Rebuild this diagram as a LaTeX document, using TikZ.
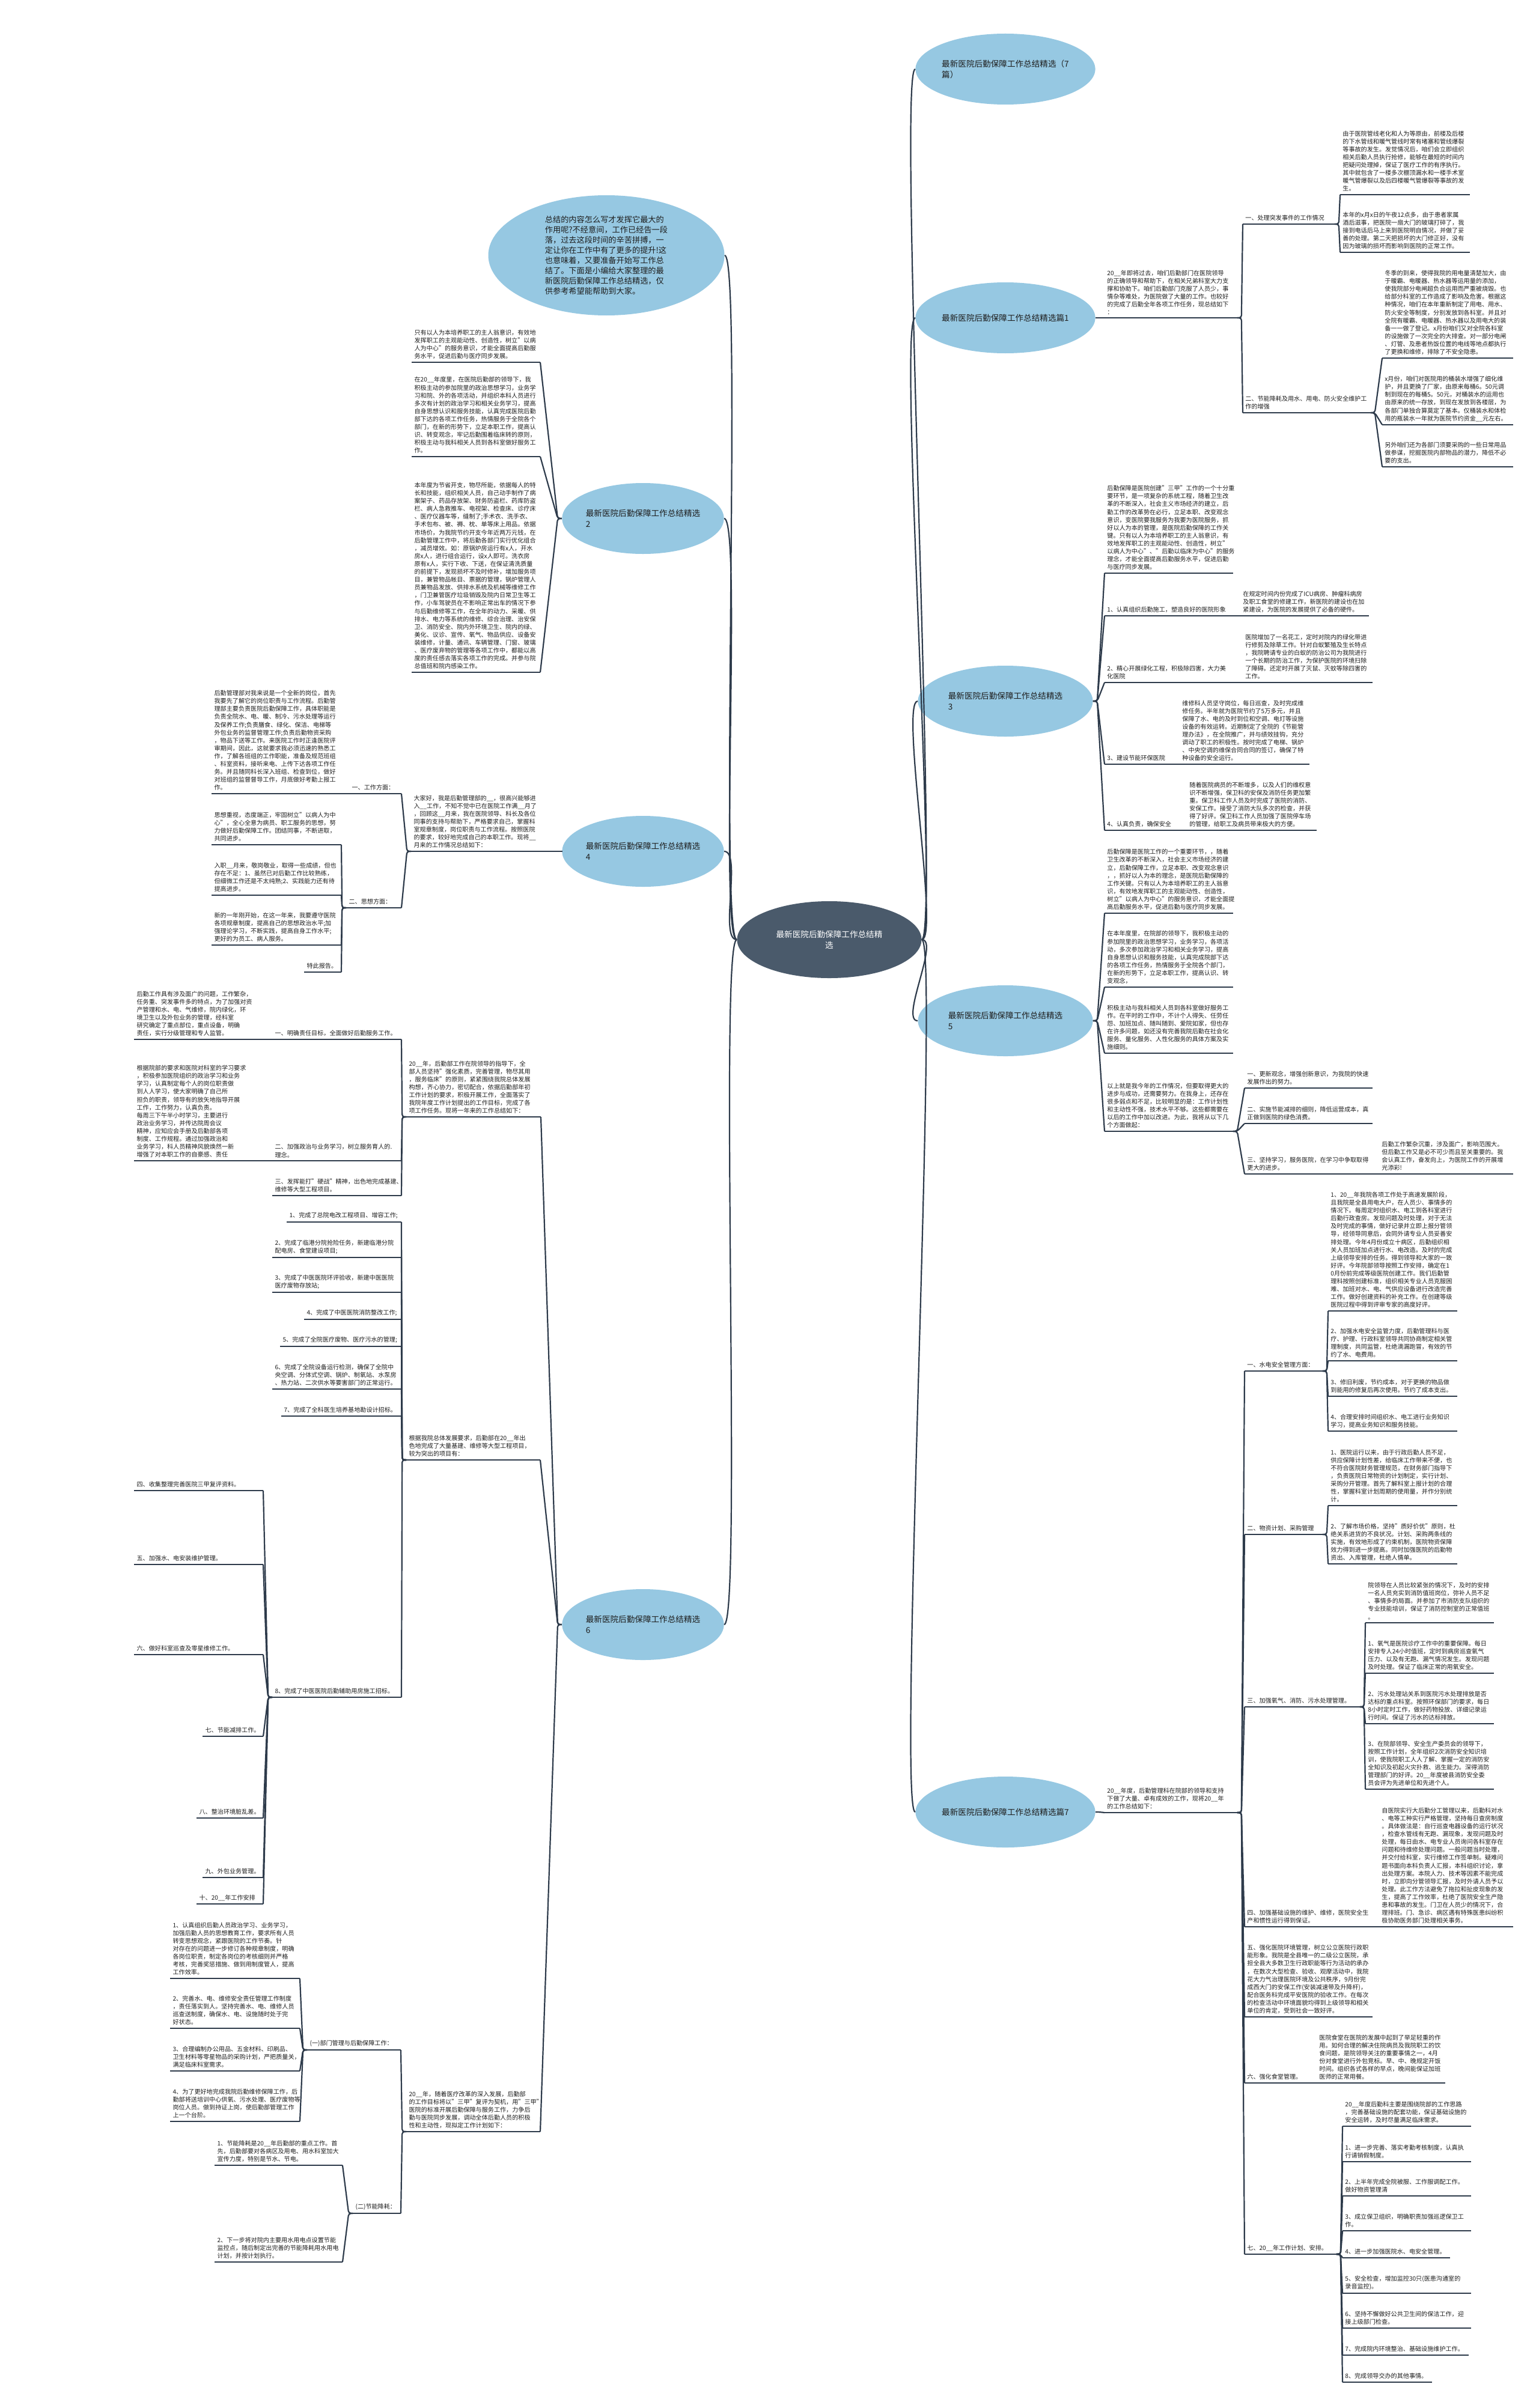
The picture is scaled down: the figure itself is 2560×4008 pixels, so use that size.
\documentclass[tikz,border=0pt]{standalone}
\usepackage{fontspec}
\setmainfont{Noto Sans CJK SC}
\usetikzlibrary{shapes.geometric}
\definecolor{lc}{HTML}{2E3B4B}
\definecolor{bl}{HTML}{96C8E2}
\definecolor{cc}{HTML}{4A5A6B}
\definecolor{tx}{HTML}{1E1E1E}
\newcommand\mkR[5]{\pgfmathsetmacro\mktw{(#4-8)/2}\node[leaf,text width=\mktw pt,anchor=south west] (#1) at (#2,#3) {#5};\draw[uline] (#1.south west) -- (#1.south east);}
\newcommand\mkL[5]{\pgfmathsetmacro\mktw{(#4-8)/2}\node[leaf,text width=\mktw pt,anchor=south east] (#1) at (#2,#3) {#5};\draw[uline] (#1.south west) -- (#1.south east);}
\newcommand\conR[2]{\draw[conn] (#1) -- ++(7,0) -- (#2.south west);}
\newcommand\conL[2]{\draw[conn] (#1) -- ++(-7,0) -- (#2.south east);}
\begin{document}
\begin{tikzpicture}[x=0.5pt,y=-0.5pt,
 leaf/.style={font=\fontsize{5.05pt}{6.55pt}\selectfont, align=left, inner xsep=2pt, inner ysep=2.5pt, text=tx},
 uline/.style={draw=lc, line width=1.1pt},
 conn/.style={draw=lc, line width=1.1pt, rounded corners=2pt},
 bell/.style={ellipse, fill=bl, draw=none, minimum width=145.5pt, minimum height=59pt, align=left, inner sep=0pt, text=tx, font=\fontsize{6.8pt}{9pt}\selectfont},
 lell/.style={bell, minimum width=134pt}]
\useasboundingbox (0,0) rectangle (2560,4008);
\fill[white] (0,0) rectangle (2560,4008);

% central and branches
\node[ellipse, fill=cc, minimum width=153.5pt, minimum height=64pt, inner sep=0pt, align=center, text=white, font=\fontsize{6.8pt}{9pt}\selectfont] (C) at (1380,1564) {最新医院后勤保障工作总结精\\选};
\node[bell] (B0) at (1673,115) {最新医院后勤保障工作总结精选（7\\篇）};
\node[bell] (B1) at (1673,529) {最新医院后勤保障工作总结精选篇1};
\node[bell] (B3) at (1673,1167) {最新医院后勤保障工作总结精选\\3};
\node[bell] (B5) at (1673,1699) {最新医院后勤保障工作总结精选\\5};
\node[bell] (B7) at (1673,3016) {最新医院后勤保障工作总结精选篇7};
\node[ellipse, fill=bl, minimum width=196.5pt, minimum height=100pt, inner sep=0pt, align=left, text=tx, font=\fontsize{6.6pt}{8.5pt}\selectfont] (I) at (1009,425) {总结的内容怎么写才发挥它最大的\\作用呢?不经意间，工作已经告一段\\落，过去这段时间的辛苦拼搏，一\\定让你在工作中有了更多的提升!这\\也意味着，又要准备开始写工作总\\结了。下面是小编给大家整理的最\\新医院后勤保障工作总结精选，仅\\供参考希望能帮助到大家。};
\node[lell] (L2) at (1070,863) {最新医院后勤保障工作总结精选\\2};
\node[lell] (L4) at (1070,1417) {最新医院后勤保障工作总结精选\\4};
\node[lell] (L6) at (1070,2704) {最新医院后勤保障工作总结精选\\6};
\foreach \b in {B0,B1,B3,B5,B7}{\draw[conn] (C.east) .. controls +(30,0) and +(-30,0) .. (\b.west);}
\foreach \b in {I,L2,L4,L6}{\draw[conn] (C.west) .. controls +(-30,0) and +(30,0) .. (\b.east);}

% ---------- B1
\mkR{r1}{1838}{529}{220}{20\_\_年即将过去，咱们后勤部门在医院领导\\的正确领导和帮助下，在相关兄弟科室大力支\\撑和协助下。咱们后勤部门克服了人员少，事\\情杂等难处，为医院做了大量的工作。也较好\\的完成了后勤全年各项工作任务，现总结如下\\：}
\conR{B1.east}{r1}
\mkR{r1a}{2068}{373}{152}{一、处理突发事件的工作情况}
\mkR{r1a1}{2230}{324}{215}{由于医院管线老化和人为等原由，前楼及后楼\\的下水管线和暖气管线时常有堵塞和管线爆裂\\等事故的发生。发觉情况后，咱们会立即组织\\相关后勤人员执行抢修，能够在最短的时间内\\把疑问处理掉，保证了医疗工作的有序执行。\\其中就包含了一楼多次棚顶漏水和一楼手术室\\暖气管爆裂以及后四楼暖气管爆裂等事故的发\\生。}
\mkR{r1a2}{2230}{420}{215}{本年的x月x日的午夜12点多，由于患者家属\\酒后滋事，把医院一扇大门的玻璃打碎了，我\\接到电话后马上来到医院明自情况，并做了妥\\善的处理。第二天把损坏的大门修正好，没有\\因为玻璃的损坏而影响到医院的正常工作。}
\mkR{r1b}{2068}{687}{212}{二、节能降耗及用水、用电、防火安全维护工\\作的增强}
\mkR{r1b1}{2300}{596}{217}{冬季的到来，使得我院的用电量清楚加大，由\\于暖霸、电暖器、热水器等运用量的添加，\\使我院部分电闸超负合运用而严重被烧毁。也\\给部分科室的工作造成了影响及危害。根据这\\种情况，咱们在本年重新制定了用电、用水、\\防火安全等制度，分别发放到各科室。并且对\\全院有暖霸、电暖器、热水器以及用电大的装\\备一一做了登记。x月份咱们又对全院各科室\\的设施做了一次完全的大排查。对一部分电闸\\、灯管、及患者热饭位置的电线等地点都执行\\了更换和维修，排除了不安全隐患。}
\mkR{r1b2}{2300}{707}{217}{x月份，咱们对医院用的桶装水增强了细化维\\护，并且更换了厂家，由原来每桶6。50元调\\制到现在的每桶5。50元，对桶装水的运用也\\由原来的统一存放，到现在发放到各楼层，为\\各部门单独合算莫定了基本。仅桶装水和体检\\用的瓶装水一年就为医院节约资金\_\_元左右。}
\mkR{r1b3}{2300}{777}{217}{另外咱们还为各部门须要采购的一些日常用品\\做参谋，挖掘医院内部物品的潜力，降低不必\\要的支出。}
\conR{r1.south east}{r1a}\conR{r1.south east}{r1b}
\conR{r1a.south east}{r1a1}\conR{r1a.south east}{r1a2}
\conR{r1b.south east}{r1b1}\conR{r1b.south east}{r1b2}\conR{r1b.south east}{r1b3}

% ---------- B3
\mkR{r3a}{1838}{954}{213}{后勤保障是医院创建"三甲"工作的一个十分重\\要环节，是一项复杂的系统工程，随着卫生改\\革的不断深入，社会主义市场经济的建立，后\\勤工作的改革势在必行，立足本职、改变观念\\意识，变医院要我服务为我要为医院服务，抓\\好以人为本的管理，是医院后勤保障的工作关\\键。只有以人为本培养职工的主人翁意识，有\\效地发挥职工的主观能动性、创造性，树立"\\以病人为中心"、"后勤以临床为中心"的服务\\理念，才能全面提高后勤服务水平，促进后勤\\与医疗同步发展。}
\mkR{r3b}{1838}{1025}{213}{1、认真组织后勤施工，塑造良好的医院形象}
\mkR{r3b1}{2064}{1025}{213}{在规定时间内份完成了ICU病房、肿瘤科病房\\及职工食堂的修建工作，新医院的建设也在加\\紧建设，为医院的发展提供了必备的硬件。}
\mkR{r3c}{1838}{1136}{213}{2、精心开展绿化工程，积极除四害，大力美\\化医院}
\mkR{r3c1}{2068}{1136}{215}{医院增加了一名花工，定时对院内的绿化带进\\行修剪及除草工作。针对白蚁繁殖及生长特点\\，我院聘请专业的白蚁的防治公司为我院进行\\一个长期的防治工作，为保护医院的环境扫除\\了障碍。还定时开展了灭鼠、灭蚊等除四害的\\工作。}
\mkR{r3d}{1838}{1272}{115}{3、建设节能环保医院}
\mkR{r3d1}{1963}{1272}{215}{维修科人员坚守岗位，每日巡查，及时完成维\\修任务。半年就为医院节约了5万多元，并且\\保障了水、电的及时到位和空调、电灯等设施\\设备的有效运转。近期制定了全院的《节能管\\理办法》，在全院推广，并与绩效挂钩，充分\\调动了职工的积极性。按时完成了电梯、锅炉\\、中央空调的维保合同合同的签订，确保了特\\种设备的安全运行。}
\mkR{r3e}{1838}{1382}{125}{4、认真负责，确保安全}
\mkR{r3e1}{1975}{1382}{215}{随着医院病员的不断增多，以及人们的维权意\\识不断增强，保卫科的安保及消防任务更加繁\\重。保卫科工作人员及时完成了医院的消防、\\安保工作。接受了消防大队多次的检查，并获\\得了好评。保卫科工作人员加强了医院停车场\\的管理，给职工及病员带来极大的方便。}
\foreach \c in {r3a,r3b,r3c,r3d,r3e}{\conR{B3.east}{\c}}
\conR{r3b.south east}{r3b1}\conR{r3c.south east}{r3c1}\conR{r3d.south east}{r3d1}\conR{r3e.south east}{r3e1}

% ---------- B5
\mkR{r5a}{1838}{1520}{213}{后勤保障是医院工作的一个重要环节，，随着\\卫生改革的不断深入，社会主义市场经济的建\\立，后勤保障工作，立足本职、改变观念意识\\，，抓好以人为本的理念，是医院后勤保障的\\工作关键。只有以人为本培养职工的主人翁意\\识，有效地发挥职工的主观能动性、创造性，\\树立"以病人为中心"的服务意识，才能全面提\\高后勤服务水平，促进后勤与医疗同步发展。}
\mkR{r5b}{1838}{1643}{213}{在本年度里，在院部的领导下，我积极主动的\\参加院里的政治思想学习，业务学习，各项活\\动，多次参加政治学习和相关业务学习，提高\\自身思想认识和服务技能，认真完成院部下达\\的各项工作任务，热情服务于全院各个部门，\\在新的形势下，立足本职工作，提高认识、转\\变观念，}
\mkR{r5c}{1838}{1753}{213}{积极主动与我科相关人员到各科室做好服务工\\作。在平时的工作中，不计个人得失、任劳任\\怨、加班加点、随叫随到、爱院如家，但也存\\在许多问题，如还没有完善我院后勤在社会化\\服务、量化服务、人性化服务的具体方案及实\\施细则。}
\mkR{r5d}{1838}{1883}{213}{以上就是我今年的工作情况，但要取得更大的\\进步与成功，还需要努力。在我身上，还存在\\很多弱点和不足，比较明显的是：工作计划性\\和主动性不强，技术水平不够。这些都需要在\\以后的工作中加以改进。为此，我将从以下几\\个方面做起：}
\mkR{r5d1}{2071}{1811}{212}{一、更新观念，增强创新意识，为我院的快速\\发展作出的努力。}
\mkR{r5d2}{2071}{1870}{212}{二、实施节能减排的细则，降低运营成本，真\\正做到医院的绿色消费。}
\mkR{r5d3}{2071}{1954}{212}{三、坚持学习，服务医院，在学习中争取取得\\更大的进步。}
\mkR{r5d3a}{2295}{1954}{222}{后勤工作繁杂沉重，涉及面广，影响范围大。\\但后勤工作又是必不可少而且至关重要的。我\\会认真工作，奋发向上，为医院工作的开展增\\光添彩!}
\foreach \c in {r5a,r5b,r5c,r5d}{\conR{B5.east}{\c}}
\foreach \c in {r5d1,r5d2,r5d3}{\conR{r5d.south east}{\c}}
\conR{r5d3.south east}{r5d3a}

% ---------- B7
\mkR{r7}{1838}{3017}{220}{20\_\_年度，后勤管理科在院部的领导和支持\\下做了大量、卓有成效的工作，现将20\_\_年\\的工作总结如下：}
\conR{B7.east}{r7}
\mkR{r7a}{2071}{2282}{129}{一、水电安全管理方面：}
\mkR{r7a1}{2210}{2182}{214}{1、20\_\_年我院各项工作处于高速发展阶段，\\且我院是全县用电大户，在人员少、事情多的\\情况下。每周定时组织水、电工到各科室进行\\后勤行政查房。发现问题及时处理，对于无法\\及时完成的事情，做好记录并立即上报分管领\\导，经领导同意后，会同外请专业人员妥善安\\排处理。今年4月份成立十病区，后勤组织相\\关人员加班加点进行水、电改造。及时的完成\\上级领导安排的任务。得到领导和大家的一致\\好评。今年院部领导按照工作安排，确定在1\\0月份前完成等级医院创建工作。我们后勤管\\理科按照创建标准，组织相关专业人员克服困\\难、加班对水、电、气供应设备进行改造完善\\工作。做好创建资料的补充工作。在创建等级\\医院过程中得到评审专家的高度好评。}
\mkR{r7a2}{2210}{2265}{214}{2、加强水电安全监管力度，后勤管理科与医\\疗、护理、行政科室领导共同协商制定相关管\\理制度，共同监管，杜绝滴漏跑冒，有效的节\\约了水、电费用。}
\mkR{r7a3}{2210}{2324}{214}{3、修旧利废，节约成本，对于更换的物品做\\到能用的修复后再次使用。节约了成本支出。}
\mkR{r7a4}{2210}{2382}{214}{4、合理安排时间组织水、电工进行业务知识\\学习，提高业务知识和服务技能。}
\mkR{r7b}{2071}{2554}{129}{二、物资计划、采购管理}
\mkR{r7b1}{2210}{2506}{214}{1、医院运行以来，由于行政后勤人员不足，\\供应保障计划性差，给临床工作带来不便，也\\不符合医院财务管理规范，在财务部门指导下\\，负责医院日常物资的计划制定，实行计划、\\采购分开管理。首先了解科室上报计划的合理\\性，掌握科室计划周期的使用量，并作分别统\\计。}
\mkR{r7b2}{2210}{2603}{214}{2、了解市场价格，坚持"质好价优"原则，杜\\绝关系进货的不良状况。计划、采购两条线的\\实施，有效地形成了约束机制，医院物资保障\\效力得到进一步提高。同时加强医院的后勤物\\资出、入库管理，杜绝人情单。}
\mkR{r7c}{2071}{2841}{191}{三、加强氧气、消防、污水处理管理。}
\mkR{r7c1}{2272}{2701}{213}{院领导在人员比较紧张的情况下，及时的安排\\一名人员充实到消防值班岗位，弥补人员不足\\、事情多的局面。并参加了市消防支队组织的\\专业技能培训，保证了消防控制室的正常值班\\。}
\mkR{r7c2}{2272}{2785}{213}{1、氧气是医院诊疗工作中的重要保障。每日\\安排专人24小时值班，定时到病房巡查氧气\\压力、以及有无跑、漏气情况发生。发现问题\\及时处理。保证了临床正常的用氧安全。}
\mkR{r7c3}{2272}{2869}{213}{2、污水处理站关系到医院污水处理排放是否\\达标的重点科室。按照环保部门的要求，每日\\8小时定时工作，做好药物投放、详细记录运\\行时间。保证了污水的达标排放。}
\mkR{r7c4}{2272}{2978}{213}{3、在院部领导、安全生产委员会的领导下，\\按照工作计划，全年组织2次消防安全知识培\\训，使我院职工人人了解、掌握一定的消防安\\全知识及初起火灾扑救、逃生能力。深得消防\\管理部门的好评。20\_\_年度被县消防安全委\\员会评为先进单位和先进个人。}
\mkR{r7d}{2071}{3207}{212}{四、加强基础设施的维护、维修，医院安全生\\产和惯性运行得到保证。}
\mkR{r7d1}{2295}{3207}{222}{自医院实行大后勤分工管理以来，后勤科对水\\、电等工种实行严格管理，坚持每日查房制度\\。具体做法是：自行巡查电器设备的运行状况\\，检查水管线有无跑、漏现象，发现问题及时\\处理，每日由水、电专业人员询问各科室存在\\问题和待维修处理问题。一般问题当时处理，\\并交付给科室，实行维修工作签单制。疑难问\\题书面向本科负责人汇报，本科组织讨论，拿\\出处理方案。本院人力、技术等因素不能完成\\时，立即向分管领导汇报，及时外请人员予以\\处理。此工作方法避免了拖拉和扯皮现象的发\\生，提高了工作效率，杜绝了医院安全生产隐\\患和事故的发生。门卫在人员少的情况下，合\\理排班。门、急诊、病区遇有特殊医患纠纷积\\极协助医务部门处理相关事务。}
\mkR{r7e}{2071}{3357}{212}{五、强化医院环境管理，树立公立医院行政职\\能形象。我院是全县唯一的二级公立医院，承\\担全县大多数卫生行政职能等行为活动的承办\\，在数次大型检查、验收、观摩活动中，我院\\花大力气治理医院环境及公共秩序，9月份完\\成西大门的安保工作(安装减速带及升降杆)，\\配合医务科完成平安医院的验收工作。在每次\\的检查活动中环境面貌均得到上级领导和相关\\单位的肯定，受到社会一致好评。}
\mkR{r7f}{2071}{3467}{110}{六、强化食堂管理。}
\mkR{r7f1}{2191}{3467}{213}{医院食堂在医院的发展中起到了举足轻重的作\\用。如何合理的解决住院病员及我院职工的饮\\食问题，是院领导关注的重要事情之一，4月\\份对食堂进行外包竞标。早、中、晚规定开饭\\时间。组织各式各样的早点，晚间能保证加班\\医师的正常用餐。}
\mkR{r7g}{2071}{3752}{152}{七、20\_\_年工作计划、安排。}
\mkR{r7g0}{2234}{3539}{213}{20\_\_年度后勤科主要是围绕院部的工作思路\\，完善基础设施的配套功能，保证基础设施的\\安全运转，及时尽量满足临床需求。}
\mkR{r7g1}{2234}{3598}{213}{1、进一步完善、落实考勤考核制度，认真执\\行请销假制度。}
\mkR{r7g2}{2234}{3655}{213}{2、上半年完成全院被服、工作服调配工作。\\做好物资管理清}
\mkR{r7g3}{2234}{3713}{213}{3、成立保卫组织，明确职责加强巡逻保卫工\\作。}
\mkR{r7g4}{2234}{3758}{178}{4、进一步加强医院水、电安全管理。}
\mkR{r7g5}{2234}{3817}{213}{5、安全检查，增加监控30只(医患沟通室的\\录音监控)。}
\mkR{r7g6}{2234}{3875}{213}{6、坚持不懈做好公共卫生间的保洁工作，迎\\接上级部门检查。}
\mkR{r7g7}{2234}{3920}{209}{7、完成院内环境整治、基础设施维护工作。}
\mkR{r7g8}{2234}{3965}{148}{8、完成领导交办的其他事情。}
\foreach \c in {r7a,r7b,r7c,r7d,r7e,r7f,r7g}{\conR{r7.south east}{\c}}
\foreach \c in {r7a1,r7a2,r7a3,r7a4}{\conR{r7a.south east}{\c}}
\foreach \c in {r7b1,r7b2}{\conR{r7b.south east}{\c}}
\foreach \c in {r7c1,r7c2,r7c3,r7c4}{\conR{r7c.south east}{\c}}
\conR{r7d.south east}{r7d1}\conR{r7f.south east}{r7f1}
\foreach \c in {r7g0,r7g1,r7g2,r7g3,r7g4,r7g5,r7g6,r7g7,r7g8}{\conR{r7g.south east}{\c}}

% ---------- L2
\mkL{l2a}{899}{603}{213}{只有以人为本培养职工的主人翁意识，有效地\\发挥职工的主观能动性、创造性，树立"以病\\人为中心"的服务意识，才能全面提高后勤服\\务水平，促进后勤与医疗同步发展。}
\mkL{l2b}{899}{760}{213}{在20\_\_年度里，在医院后勤部的领导下，我\\积极主动的参加院里的政治思想学习，业务学\\习和院、外的各项活动，并组织本科人员进行\\多次有计划的政治学习和相关业务学习，提高\\自身思想认识和服务技能，认真完成医院后勤\\部下达的各项工作任务，热情服务于全院各个\\部门，在新的形势下，立足本职工作，提高认\\识、转变观念，牢记后勤围着临床转的原则，\\积极主动与我科相关人员到各科室做好服务工\\作。}
\mkL{l2c}{899}{1119}{213}{本年度为节省开支，物尽所能，依据每人的特\\长和技能，组织相关人员，自己动手制作了病\\案架子、药品存放架、财务防盗栏、药库防盗\\栏、病人急救推车、电视架、检查床、诊疗床\\、医疗仪器车等，缝制了;手术衣、洗手衣、\\手术包布、被、褥、枕、单等床上用品。依据\\市场价，为我院节约开支今年近两万元钱，在\\后勤管理工作中，将后勤各部门实行优化组合\\，减员增效。如：原锅炉房运行有x人，开水\\房x人，进行组合运行，设x人即可。洗衣房\\原有x人，实行下收、下送，在保证清洗质量\\的前提下，发现损坏不及时修补，增加服务项\\目，兼管物品帐目、票据的管理，锅炉管理人\\员兼物品发放、供排水系统及机械等维修工作\\，门卫兼管医疗垃圾销毁及院内日常卫生等工\\作，小车驾驶员在不影响正常出车的情况下参\\与后勤维修等工作，在全年的动力、采暖、供\\排水、电力等系统的维修、综合治理、治安保\\卫、消防安全、院内外环境卫生、院内的绿、\\美化、议诊、宣传、氧气、物品供应、设备安\\装维修，计量、通讯、车辆管理、门窗、玻璃\\、医疗废弃物的管理等各项工作中，都能以高\\度的责任感去落实各项工作的完成。并参与院\\总值班和院内感染工作。}
\foreach \c in {l2a,l2b,l2c}{\conL{L2.west}{\c}}

% ---------- L4
\mkL{l4r}{936}{1417}{251}{大家好，我是后勤管理部的\_\_，很高兴能够进\\入\_\_工作，不知不觉中已在医院工作满\_\_月了\\，回顾这\_\_月来，我在医院领导、科长及各位\\同事的支持与帮助下，严格要求自己，掌握科\\室规章制度，岗位职责与工作流程。按照医院\\的要求，较好地完成自己的本职工作。现将\_\_\\月来的工作情况总结如下：}
\conL{L4.west}{l4r}
\mkL{l4a}{668}{1321}{86}{一、工作方面：}
\mkL{l4a1}{572}{1321}{219}{后勤管理部对我来说是一个全新的岗位，首先\\我要先了解它的岗位职责与工作流程。后勤管\\理部主要负责医院后勤保障工作，具体职能是\\负责全院水、电、暖、制冷、污水处理等运行\\及保养工作;负责膳食、绿化、保洁、电梯等\\外包业务的监督管理工作;负责后勤物资采购\\，物品下送等工作。来医院工作时正逢医院评\\审期间，因此，这就要求我必须迅速的熟悉工\\作，了解各班组的工作职能，准备及规范班组\\、科室资料，接听来电、上传下达各项工作任\\务。并且随同科长深入班组、检查到位，做好\\对班组的监督督导工作，月底做好考勤上报工\\作。}
\mkL{l4b}{668}{1511}{91}{二、思想方面：}
\mkL{l4b1}{568}{1406}{215}{思想重视，态度端正，牢固树立"以病人为中\\心"，全心全意为病员、职工服务的思想，努\\力做好后勤保障工作。团结同事，不断进取，\\共同进步。}
\mkL{l4b2}{568}{1490}{215}{入职\_\_月来，敬岗敬业，取得一些成绩，但也\\存在不足：1、虽然已对后勤工作比较熟练，\\但细微工作还是不太纯熟;2、实践能力还有待\\提高进步。}
\mkL{l4b3}{568}{1573}{215}{新的一年刚开始，在这一年来，我要遵守医院\\各项规章制度，提高自己的思想政治水平;加\\强理论学习，不断实践，提高自身工作水平;\\更好的为员工、病人服务。}
\mkL{l4b4}{568}{1618}{61}{特此报告。}
\conL{l4r.south west}{l4a}\conL{l4r.south west}{l4b}
\conL{l4a.south west}{l4a1}
\foreach \c in {l4b1,l4b2,l4b3,l4b4}{\conL{l4b.south west}{\c}}

% ---------- L6
\mkL{l6r}{900}{1859}{223}{20\_\_年，后勤部工作在院领导的指导下，全\\部人员坚持"强化素质，完善管理，物尽其用\\，服务临床"的原则，紧紧围绕我院总体发展\\构想，齐心协力，密切配合，依据后勤部年初\\工作计划的要求，积极开展工作，全面落实了\\我院年度工作计划提出的工作目标，完成了各\\项工作任务。现将一年来的工作总结如下：}
\mkL{l6a}{668}{1730}{214}{一、明确责任目标，全面做好后勤服务工作。}
\mkL{l6a1}{444}{1730}{220}{后勤工作具有涉及面广的问题，工作繁杂，\\任务重、突发事件多的特点，为了加强对资\\产管理和水、电、气维修，院内绿化，环\\境卫生以及外包业务的管理，经科室\\研究确定了重点部位，重点设备，明确\\责任，实行分级管理和专人监管。}
\mkL{l6b}{668}{1932}{214}{二、加强政治与业务学习，树立服务育人的.\\理念。}
\mkL{l6b1}{444}{1932}{220}{根据院部的要求和医院对科室的学习要求\\，积极参加医院组织的政治学习和业务\\学习，认真制定每个人的岗位职责做\\到人人学习，使大家明确了自己所\\担负的职责，领导有的放矢地指导开展\\工作，工作努力，认真负责。\\每周三下午半小时学习，主要进行\\政治业务学习，并传达院周会议\\精神，应知应会手册及后勤部各项\\制度、工作规程。通过加强政治和\\业务学习，科人员精神风貌焕然一新\\增强了对本职工作的自豪感、责任}
\mkL{l6c}{668}{1990}{214}{三、发挥能打"硬战"精神，出色地完成基建、\\维修等大型工程项目。}
\conL{L6.west}{l6r}
\foreach \c in {l6a,l6b,l6c}{\conL{l6r.south west}{\c}}
\conL{l6a.south west}{l6a1}\conL{l6b.south west}{l6b1}
\mkL{l6d}{899}{2430}{222}{根据我院总体发展要求，后勤部在20\_\_年出\\色地完成了大量基建、维修等大型工程项目，\\较为突出的项目有：}
\conL{L6.west}{l6d}
\mkL{l6d1}{668}{2034}{190}{1、完成了总院电改工程项目、增容工作;}
\mkL{l6d2}{668}{2093}{214}{2、完成了临港分院抢险任务，新建临港分院\\配电房、食堂建设项目;}
\mkL{l6d3}{668}{2151}{214}{3、完成了中医医院环评验收，新建中医医院\\医疗废物存放站;}
\mkL{l6d4}{668}{2196}{161}{4、完成了中医医院消防整改工作;}
\mkL{l6d5}{668}{2241}{201}{5、完成了全院医疗废物、医疗污水的管理;}
\mkL{l6d6}{668}{2312}{214}{6、完成了全院设备运行检测，确保了全院中\\央空调、分体式空调、锅炉、制氧站、水泵房\\、热力站、二次供水等要害部门的正常运行。}
\mkL{l6d7}{668}{2357}{199}{7、完成了全科医生培养基地勘设计招标。}
\mkL{l6d8}{668}{2825}{214}{8、完成了中医医院后勤辅助用房施工招标。}
\foreach \c in {l6d1,l6d2,l6d3,l6d4,l6d5,l6d6,l6d7,l6d8}{\conL{l6d.south west}{\c}}
\mkL{l6e4}{438}{2481}{214}{四、收集整理完善医院三甲复评资料。}
\mkL{l6e5}{438}{2604}{214}{五、加强水、电安装维护管理。}
\mkL{l6e6}{438}{2754}{214}{六、做好科室巡查及零星维修工作。}
\mkL{l6e7}{438}{2890}{100}{七、节能减排工作。}
\mkL{l6e8}{438}{3026}{110}{八、整治环境脏乱差。}
\mkL{l6e9}{438}{3125}{100}{九、外包业务管理。}
\mkL{l6e10}{438}{3169}{110}{十、20\_\_年工作安排}
\foreach \c in {l6e4,l6e5,l6e6,l6e7,l6e8,l6e9,l6e10}{\conL{l6d8.south west}{\c}}
\mkL{l6f}{899}{3548}{222}{20\_\_年，随着医疗改革的深入发展，后勤部\\的工作目标将以"三甲"复评为契机，用"三甲"\\医院的标准开展后勤保障与服务工作，力争后\\勤与医院同步发展，调动全体后勤人员的积极\\性和主动性，现拟定工作计划如下：}
\conL{L6.west}{l6f}
\mkL{l6f1}{667}{3412}{155}{(一)部门管理与后勤保障工作：}
\mkL{l6f2}{667}{3684}{79}{(二)节能降耗：}
\conL{l6f.south west}{l6f1}\conL{l6f.south west}{l6f2}
\mkL{l6f1a}{499}{3293}{215}{1、认真组织后勤人员政治学习、业务学习，\\加强后勤人员的思想教育工作，要求所有人员\\转变思想观念，紧跟医院的工作节奏。针\\对存在的问题进一步修订各种规章制度，明确\\各岗位职责，制定各岗位的考核细则并严格\\考核，完善奖惩措施、做到用制度管人，提高\\工作效率。}
\mkL{l6f1b}{499}{3376}{215}{2、完善水、电、维修安全责任管理工作制度\\，责任落实到人。坚持完善水、电、维修人员\\巡查送制度，确保水、电、设施随时处于完\\好状态。}
\mkL{l6f1c}{499}{3447}{215}{3、合理编制办公用品、五金材料、印刷品、\\卫生材料等零星物品的采购计划，严把质量关，\\满足临床科室需求。}
\mkL{l6f1d}{499}{3531}{215}{4、为了更好地完成我院后勤维修保障工作，后\\勤部将送培训中心供氧、污水处理、医疗废物等\\岗位人员。做到持证上岗，使后勤部管理工作\\上一个台阶。}
\foreach \c in {l6f1a,l6f1b,l6f1c,l6f1d}{\conL{l6f1.south west}{\c}}
\mkL{l6f2a}{570}{3604}{212}{1、节能降耗是20\_\_年后勤部的重点工作。首\\先，后勤部要对各病区及用电、用水科室加大\\宣传力度，特别是节水、节电。}
\mkL{l6f2b}{570}{3765}{212}{2、下一步将对院内主要用水用电点设置节能\\监控点，随后制定出完善的节能降耗用水用电\\计划，并按计划执行。}
\conL{l6f2.south west}{l6f2a}\conL{l6f2.south west}{l6f2b}
\end{tikzpicture}
\end{document}
